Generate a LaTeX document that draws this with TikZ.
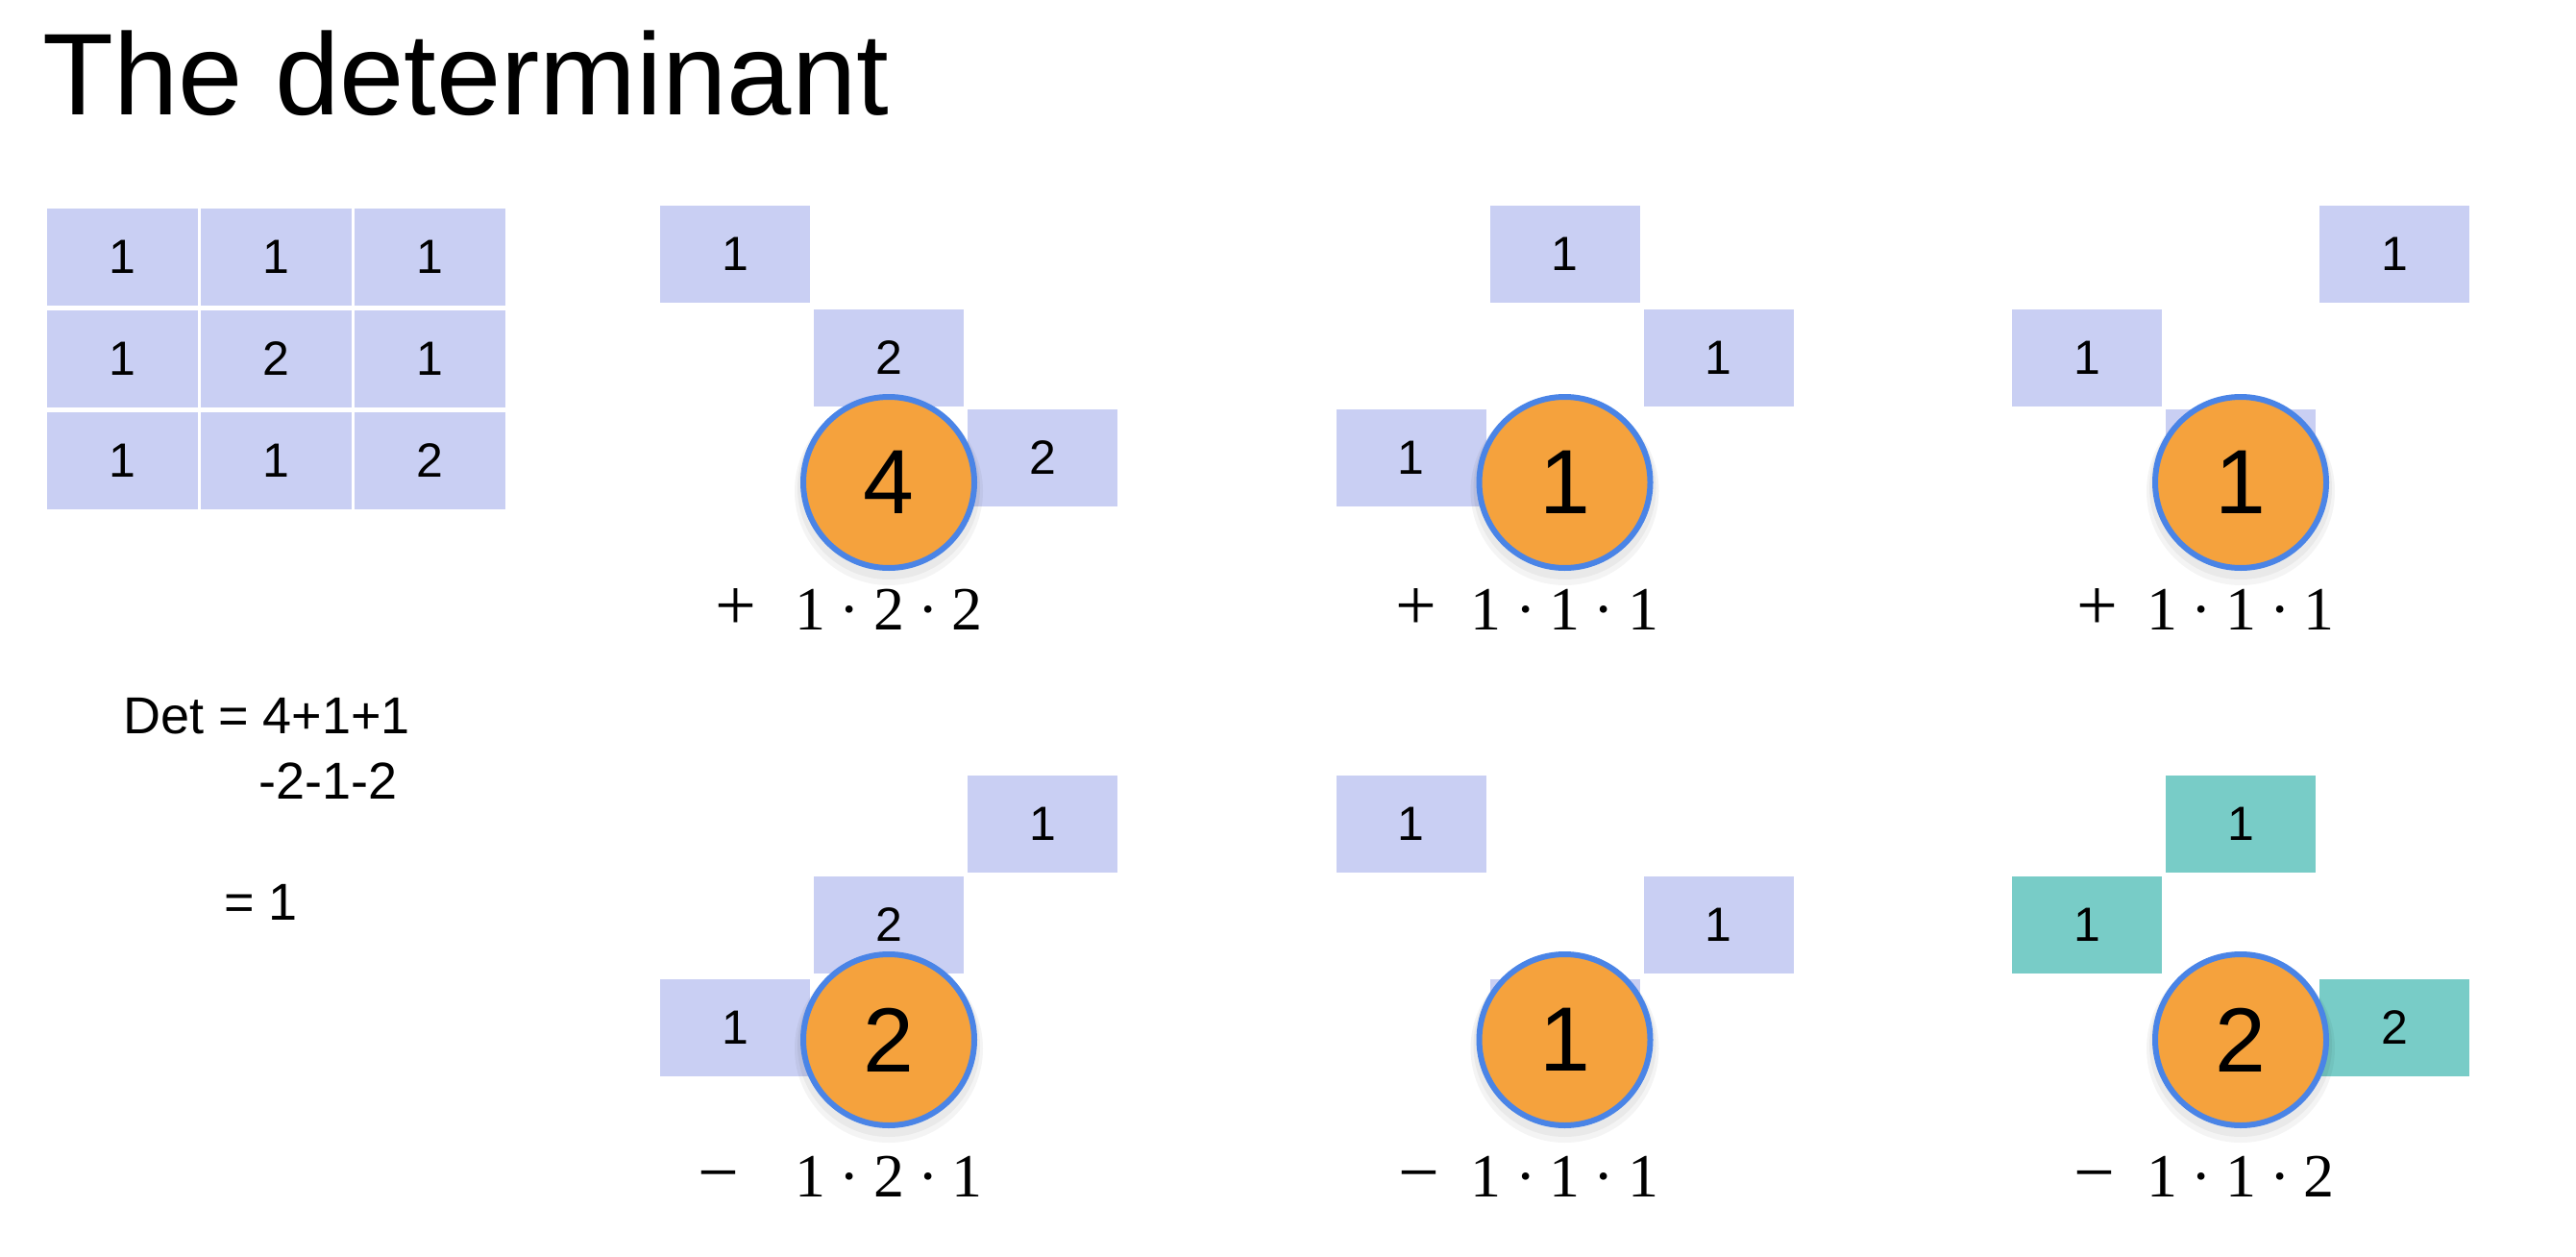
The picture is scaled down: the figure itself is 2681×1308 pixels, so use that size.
\documentclass[tikz,border=0pt]{standalone}
\usepackage{fontspec}
\setmainfont{Liberation Sans}
\newfontfamily\serifnum{Liberation Serif}
\definecolor{boxc}{HTML}{C9CFF3}
\definecolor{tealc}{HTML}{78CCC7}
\definecolor{orangec}{HTML}{F5A23D}
\definecolor{bluec}{HTML}{4A84E6}
\newcommand\pd{\hspace{0.222em}·\hspace{0.222em}}
\begin{document}
\begin{tikzpicture}[x=1pt,y=-1pt,
  cell/.style={rectangle, fill=boxc, minimum width=157, minimum height=101, inner sep=0,
    font=\fontsize{50}{50}\selectfont},
  gcell/.style={rectangle, fill=boxc, minimum width=156, minimum height=101, inner sep=0,
    font=\fontsize{50}{50}\selectfont},
  tcell/.style={gcell, fill=tealc},
  res/.style={circle, fill=orangec, draw=bluec, line width=6, minimum size=178, inner sep=0,
    font=\fontsize{95}{95}\selectfont},
  shade/.style={fill=black, opacity=0.045},
  prod/.style={anchor=base, inner sep=0, font=\serifnum\fontsize{64}{64}\selectfont},
  sign/.style={anchor=base, inner sep=0, font=\serifnum\fontsize{76}{76}\selectfont},
  detline/.style={anchor=base west, inner sep=0, font=\fontsize{54}{54}\selectfont}
]
\useasboundingbox (0,0) rectangle (2681,1308);
\fill[white] (0,0) rectangle (2681,1308);

% title
\node[anchor=base west, inner sep=0, font=\fontsize{121}{121}\selectfont] (title) at (44,120) {The determinant};

% matrix
\node[cell] (m11) at (127,267) {1};
\node[cell] (m12) at (287,267) {1};
\node[cell] (m13) at (447,267) {1};
\node[cell] (m21) at (127,373) {1};
\node[cell] (m22) at (287,373) {2};
\node[cell] (m23) at (447,373) {1};
\node[cell] (m31) at (127,479) {1};
\node[cell] (m32) at (287,479) {1};
\node[cell] (m33) at (447,479) {2};

% Det text
\node[detline] (det1) at (128,763) {Det = 4+1+1};
\node[detline] (det2) at (269,831) {-2-1-2};
\node[detline] (det3) at (233,957) {= 1};

% group 1 (top left)
\node[gcell] (g1a) at (765,264) {1};
\node[gcell] (g1b) at (925,372) {2};
\node[gcell] (g1c) at (1085,476) {2};
% group 2 (top middle)
\node[gcell] (g2a) at (1628.5,264) {1};
\node[gcell] (g2b) at (1788.5,372) {1};
\node[gcell] (g2c) at (1468.5,476) {1};
% group 3 (top right)
\node[gcell] (g3a) at (2492,264) {1};
\node[gcell] (g3b) at (2172,372) {1};
\node[gcell] (g3c) at (2332,476) {};
% group 4 (bottom left)
\node[gcell] (g4a) at (1085,857) {1};
\node[gcell] (g4b) at (925,962) {2};
\node[gcell] (g4c) at (765,1069) {1};
% group 5 (bottom middle)
\node[gcell] (g5a) at (1468.5,857) {1};
\node[gcell] (g5b) at (1788.5,962) {1};
\node[gcell] (g5c) at (1628.5,1069) {};
% group 6 (bottom right, teal)
\node[tcell] (g6a) at (2332,857) {1};
\node[tcell] (g6b) at (2172,962) {1};
\node[tcell] (g6c) at (2492,1069) {2};

% soft shadows under the result circles
\foreach \cx/\cy in {925/502, 1628.5/502, 2332/502, 925/1082, 1628.5/1082, 2332/1082}{
  \fill[shade] (\cx,\cy+6) circle (95);
  \fill[shade] (\cx,\cy+9) circle (98);
}

% result circles
\node[res] (c1) at (925,502) {4};
\node[res] (c2) at (1628.5,502) {1};
\node[res] (c3) at (2332,502) {1};
\node[res] (c4) at (925,1082) {2};
\node[res] (c5) at (1628.5,1082) {1};
\node[res] (c6) at (2332,1082) {2};

% signs and products
\node[sign] (s1) at (766,655) {+};
\node[prod] (p1) at (925,655) {1\pd 2\pd 2};
\node[sign] (s2) at (1474,655) {+};
\node[prod] (p2) at (1628.5,655) {1\pd 1\pd 1};
\node[sign] (s3) at (2183,655) {+};
\node[prod] (p3) at (2332,655) {1\pd 1\pd 1};
\node[sign] (s4) at (748,1245) {−};
\node[prod] (p4) at (925,1245) {1\pd 2\pd 1};
\node[sign] (s5) at (1477,1245) {−};
\node[prod] (p5) at (1628.5,1245) {1\pd 1\pd 1};
\node[sign] (s6) at (2180,1245) {−};
\node[prod] (p6) at (2332,1245) {1\pd 1\pd 2};
\end{tikzpicture}
\end{document}
